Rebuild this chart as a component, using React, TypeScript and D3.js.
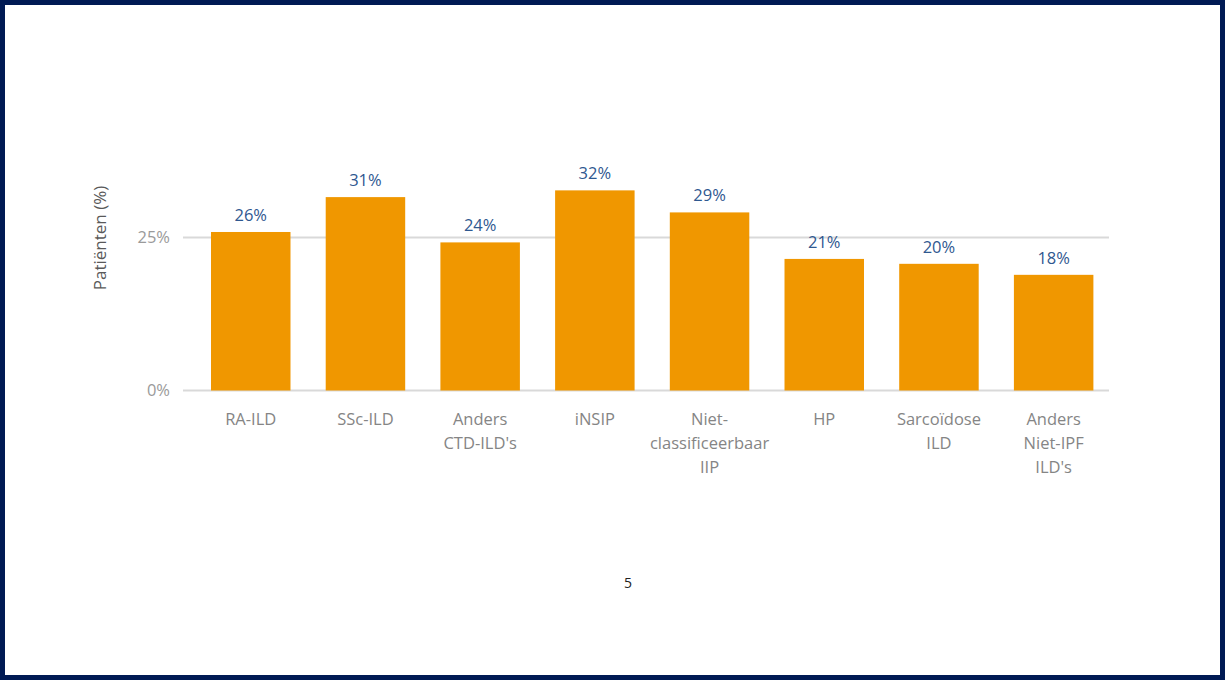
import React from "react";
import * as d3 from "d3";

const categories: string[][] = [
  ["RA-ILD"],
  ["SSc-ILD"],
  ["Anders", "CTD-ILD's"],
  ["iNSIP"],
  ["Niet-", "classificeerbaar", "IIP"],
  ["HP"],
  ["Sarcoïdose", "ILD"],
  ["Anders", "Niet-IPF", "ILD's"],
];
const values: number[] = [25.9, 31.6, 24.2, 32.7, 29.1, 21.5, 20.7, 18.9];
const valueLabels: string[] = ["26%", "31%", "24%", "32%", "29%", "21%", "20%", "18%"];
const yTicks: number[] = [0, 25];
const yTickLabels: string[] = ["0%", "25%"];
const yTitle = "Patiënten (%)";
const pageNumber = "5";

const W = 1225;
const H = 680;

export default function App() {
  const x = d3
    .scaleBand<number>()
    .domain(d3.range(categories.length))
    .range([193.4, 1111])
    .paddingInner(0.307)
    .paddingOuter(0.1535);
  const y = d3.scaleLinear().domain([0, 25]).range([390.5, 237.5]);
  const font = "'Open Sans', 'Noto Sans', sans-serif";

  return (
    <div style={{ position: "fixed", left: 0, top: 0, width: W, height: H, background: "#fff" }}>
      <svg width={W} height={H} style={{ display: "block" }}>
        <rect x={0} y={0} width={W} height={H} fill="#ffffff" />
        {yTicks.map((t, i) => (
          <g key={"t" + i}>
            <line x1={183} x2={1109} y1={y(t)} y2={y(t)} stroke="#d9d9d9" strokeWidth={2} />
            <text
              x={170}
              y={y(t)}
              dy="0.35em"
              textAnchor="end"
              fontFamily={font}
              fontSize={16.5}
              fill="#9a9a9a"
            >
              {yTickLabels[i]}
            </text>
          </g>
        ))}
        {values.map((v, i) => (
          <g key={"b" + i}>
            <rect
              x={x(i)!}
              y={y(v)}
              width={x.bandwidth()}
              height={y(0) - y(v)}
              fill="#f09700"
            />
            <text
              x={x(i)! + x.bandwidth() / 2}
              y={y(v) - 11}
              textAnchor="middle"
              fontFamily={font}
              fontSize={16.5}
              fill="#2f5890"
            >
              {valueLabels[i]}
            </text>
            {categories[i].map((line, j) => (
              <text
                key={j}
                x={x(i)! + x.bandwidth() / 2}
                y={425 + j * 24}
                textAnchor="middle"
                fontFamily={font}
                fontSize={16.5}
                fill="#858585"
              >
                {line}
              </text>
            ))}
          </g>
        ))}
        <text
          transform={`translate(106,238) rotate(-90)`}
          textAnchor="middle"
          fontFamily={font}
          fontSize={17}
          fill="#595959"
        >
          {yTitle}
        </text>
        <text x={628} y={588} textAnchor="middle" fontFamily={font} fontSize={14} fill="#222">
          {pageNumber}
        </text>
        <rect
          x={2.5}
          y={2.5}
          width={W - 5}
          height={H - 5}
          fill="none"
          stroke="#001a54"
          strokeWidth={5}
        />
      </svg>
    </div>
  );
}
